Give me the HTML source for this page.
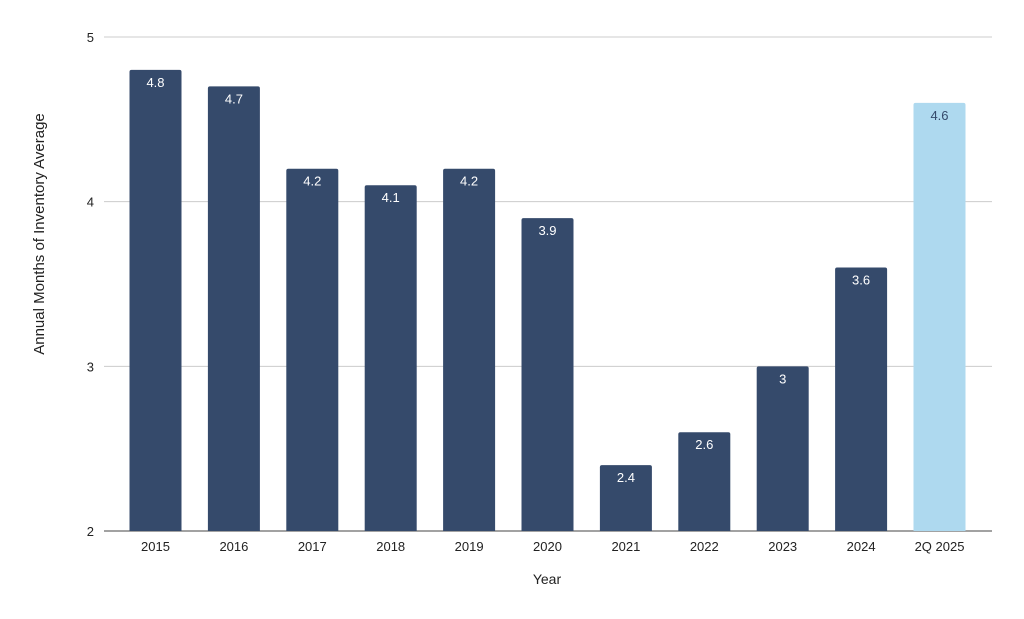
<!DOCTYPE html>
<html><head><meta charset="utf-8"><style>
html,body{margin:0;padding:0;background:#fff;}
svg{display:block;font-family:"Liberation Sans",sans-serif;}
</style></head><body>
<svg id="chart" width="1024" height="619" viewBox="0 0 1024 619" xmlns="http://www.w3.org/2000/svg">
<g id="grid"></g>
<g id="bars"></g>
<g id="xlabels"></g>
<text x="44" y="234" transform="rotate(-90 44 234)" text-anchor="middle" font-size="15" fill="#222">Annual Months of Inventory Average</text>
<text x="547" y="584" text-anchor="middle" font-size="14" fill="#222">Year</text>
</svg>
<script>
const categories = ["2015","2016","2017","2018","2019","2020","2021","2022","2023","2024","2Q 2025"];
const values = [4.8,4.7,4.2,4.1,4.2,3.9,2.4,2.6,3.0,3.6,4.6];
const valueLabels = ["4.8","4.7","4.2","4.1","4.2","3.9","2.4","2.6","3","3.6","4.6"];
const yTicks = [2,3,4,5];
const NS = "http://www.w3.org/2000/svg";
const yMin=2,yMax=5,yTop=37,yBot=531,xL=104,xR=992;
function y(v){return yBot-(v-yMin)/(yMax-yMin)*(yBot-yTop);}
const step=78.4, x0=155.5, bw=52;
function xc(i){return x0+i*step;}
function mk(tag,attrs,parent){const e=document.createElementNS(NS,tag);for(const k in attrs)e.setAttribute(k,attrs[k]);parent.appendChild(e);return e;}
const grid=document.getElementById('grid'),bars=document.getElementById('bars'),xl=document.getElementById('xlabels');
yTicks.forEach(t=>{
  const l=mk('line',{x1:xL,x2:xR,y1:y(t),y2:y(t),stroke:t===yMin?'#444':'#ccc','stroke-width':1},grid);
  
  
  const tx=mk('text',{x:94,y:y(t)+5,'text-anchor':'end','font-size':13,fill:'#222'},grid);
  tx.textContent=t;
  
  
});
categories.forEach((c,i)=>{
  const last=i===categories.length-1;
  const top=y(values[i]);
  const r=mk('path',{d:`M${xc(i)-bw/2},${yBot} V${top+2} Q${xc(i)-bw/2},${top} ${xc(i)-bw/2+2},${top} H${xc(i)+bw/2-2} Q${xc(i)+bw/2},${top} ${xc(i)+bw/2},${top+2} V${yBot} Z`,fill:last?'#aed9ef':'#354a6b'},bars);
  
  
  const vl=mk('text',{x:xc(i),y:top+17,'text-anchor':'middle','font-size':13,fill:last?'#354a6b':'#fff'},bars);
  vl.textContent=valueLabels[i];
  
  
  const xt=mk('text',{x:xc(i),y:551,'text-anchor':'middle','font-size':13,fill:'#222'},xl);
  xt.textContent=c;
  
  
});
</script>
</body></html>
